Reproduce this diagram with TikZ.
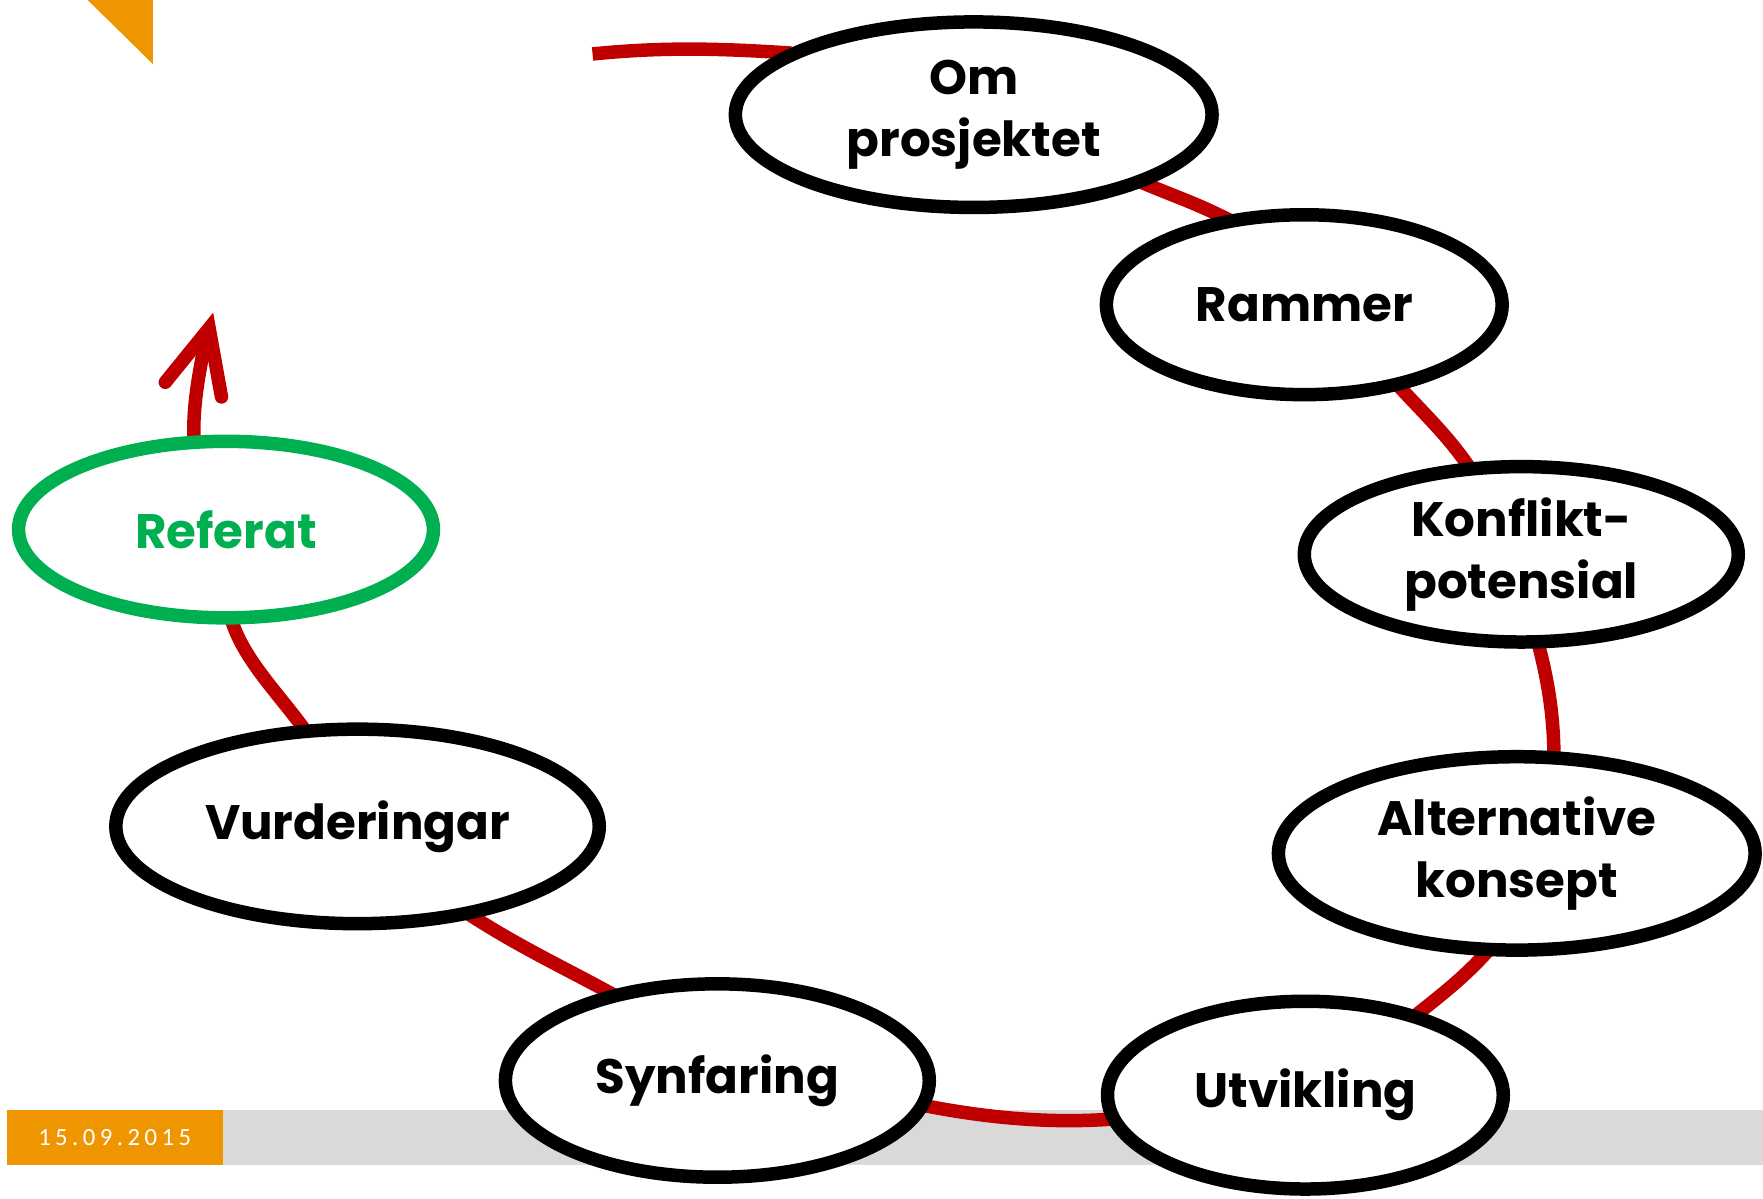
\documentclass[tikz,border=0pt]{standalone}
\usepackage{fontspec}
\setmainfont{Poppins}
\newfontfamily\datefont[LetterSpace=18]{Carlito}
\usetikzlibrary{shapes.geometric}
\definecolor{cred}{RGB}{192,0,0}
\definecolor{corange}{RGB}{238,149,0}
\definecolor{cgreen}{RGB}{0,176,80}
\definecolor{cgray}{RGB}{217,217,217}
\pgfdeclarelayer{decor}
\pgfdeclarelayer{links}
\pgfsetlayers{decor,links,main}
\begin{document}
\begin{tikzpicture}[x=0.5pt,y=-0.5pt,
  ellbox/.style={ellipse, draw=black, line width=6pt, fill=white, inner sep=0pt,
    align=center, font=\fontsize{21.5}{27.5}\selectfont\bfseries},
  redline/.style={cred, line width=6pt},
  link/.style={redline, shorten <=-4pt, shorten >=-4pt}]
\useasboundingbox (0,0) rectangle (1568,1066);
% decorations
\begin{pgfonlayer}{decor}
\fill[corange] (78,0) -- (136,0) -- (136,57) -- cycle;
\fill[cgray] (198,987) rectangle (1568,1036);
\fill[corange] (6,987) rectangle (198,1036);
\end{pgfonlayer}
\node[text=white, font=\datefont\fontsize{11}{14}\selectfont, inner sep=0pt] (date) at (102,1012) {15.09.2015};
% ellipse nodes
\node[ellbox, minimum width=212pt, minimum height=82.5pt] (om) at (866,102) {Om\\prosjektet};
\node[ellbox, minimum width=176pt, minimum height=80pt] (rammer) at (1160,271) {Rammer};
\node[ellbox, minimum width=193pt, minimum height=78pt] (konflikt) at (1353,493) {Konflikt-\\potensial};
\node[ellbox, minimum width=212pt, minimum height=86pt] (alt) at (1349,759) {Alternative\\konsept};
\node[ellbox, minimum width=176pt, minimum height=83.5pt] (utv) at (1161,974) {Utvikling};
\node[ellbox, minimum width=188.5pt, minimum height=86pt] (syn) at (638,961) {Synfaring};
\node[ellbox, minimum width=215pt, minimum height=86.5pt] (vur) at (318,735) {Vurderingar};
\node[ellbox, draw=cgreen, text=cgreen, minimum width=184.5pt, minimum height=78.5pt] (ref) at (201,471) {Referat};
% red links, behind the ellipses
\coordinate (s0) at (527,48);
\coordinate (e0) at (183,300);
\coordinate (hl) at (147,340);
\coordinate (ht) at (186,292);
\coordinate (hr) at (197,353);
\begin{pgfonlayer}{links}
\draw[redline, shorten >=-4pt] (s0) .. controls +(60,-6) and +(-60,-4) .. (om.162);
\draw[link] (om.-22) .. controls +(26,11) and +(-26,-13) .. (rammer.133);
\draw[link] (rammer.-41) .. controls +(20,22) and +(-16,-24) .. (konflikt.121);
\draw[link] (konflikt.-79) .. controls +(8,30) and +(0,-30) .. (alt.70);
\draw[link] (alt.-108) .. controls +(-18,20) and +(20,-16) .. (utv.36);
\draw[link] (utv.187) .. controls +(-50,4) and +(50,10) .. (syn.-7);
\draw[link] (syn.141) .. controls +(-40,-22) and +(40,26) .. (vur.-38);
\draw[link] (vur.119) .. controls +(-20,-28) and +(8,30) .. (ref.-86);
\draw[redline, shorten <=-4pt] (ref.109) .. controls +(-2,-30) and +(-3,20) .. (e0);
\draw[redline, line cap=round, line join=miter, miter limit=20] (hl) -- (ht) -- (hr);
\end{pgfonlayer}
\end{tikzpicture}
\end{document}
